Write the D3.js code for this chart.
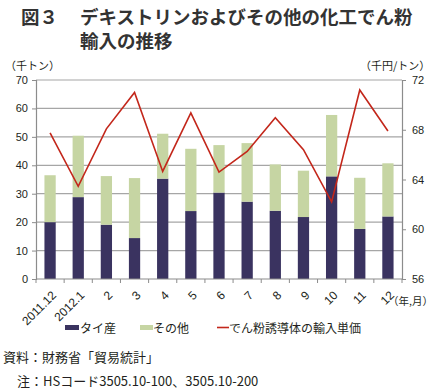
<!DOCTYPE html>
<html>
<head>
<meta charset="utf-8">
<script src="https://cdn.jsdelivr.net/npm/d3@7"></script>
<style>
body { margin: 0; background: #fff; }
text { font-family: "Noto Sans CJK JP", "Noto Sans", sans-serif; fill: #231f20; }
</style>
</head>
<body>
<div class="chart"></div>
<script>
// data
var months = ["2011.12", "2012.1", "2", "3", "4", "5", "6", "7", "8", "9", "10", "11", "12"];
var thai = [20.0, 28.8, 19.1, 14.4, 35.3, 23.9, 30.4, 27.2, 24.0, 21.8, 36.1, 17.6, 22.0];
var other = [16.5, 21.6, 17.1, 21.1, 15.8, 21.9, 16.7, 20.6, 16.3, 16.3, 21.6, 18.0, 18.7];
var price = [67.75, 63.45, 68.07, 71.0, 64.65, 69.36, 64.6, 66.26, 68.96, 66.4, 62.2, 71.2, 67.9];
var leftTicks = [0, 10, 20, 30, 40, 50, 60, 70];
var rightTicks = [56, 60, 64, 68, 72];

var width = 437, height = 390;
var margin = {top: 80, right: 35, bottom: 111, left: 36};
var w = width - margin.left - margin.right,
    h = height - margin.top - margin.bottom;

var svg = d3.select(".chart").append("svg")
    .attr("width", width)
    .attr("height", height);

// title
svg.append("text").attr("x", 21).attr("y", 24)
    .style("font-size", "18.5px").style("font-weight", "bold").style("fill", "#333")
    .text("図３");
svg.append("text").attr("x", 80).attr("y", 24)
    .style("font-size", "18.5px").style("font-weight", "bold").style("fill", "#333")
    .text("デキストリンおよびその他の化工でん粉");
svg.append("text").attr("x", 80).attr("y", 48)
    .style("font-size", "18.5px").style("font-weight", "bold").style("fill", "#333")
    .text("輸入の推移");

var g = svg.append("g")
    .attr("transform", "translate(" + margin.left + "," + margin.top + ")");

var xScale = d3.scaleBand()
    .domain(months)
    .range([0, w])
    .paddingInner(0.6)
    .paddingOuter(0.3);

var yScale = d3.scaleLinear().domain([0, 70]).range([h, 0]);
var y2Scale = d3.scaleLinear().domain([56, 72]).range([h, 0]);

// grid
g.selectAll(".grid").data(leftTicks.slice(1))
    .enter().append("line")
    .attr("x1", 0).attr("x2", w)
    .attr("y1", d => yScale(d)).attr("y2", d => yScale(d))
    .style("stroke", "#a6a6a6").style("stroke-width", 1.2);

// stacked bars
var stack = months.map(function(m, i) { return {m: m, thai: thai[i], other: other[i]}; });

g.selectAll(".thai").data(stack)
    .enter().append("rect")
    .attr("x", d => xScale(d.m))
    .attr("y", d => yScale(d.thai))
    .attr("width", xScale.bandwidth())
    .attr("height", d => yScale(0) - yScale(d.thai))
    .style("fill", "#3a3360");

g.selectAll(".other").data(stack)
    .enter().append("rect")
    .attr("x", d => xScale(d.m))
    .attr("y", d => yScale(d.thai + d.other))
    .attr("width", xScale.bandwidth())
    .attr("height", d => yScale(d.thai) - yScale(d.thai + d.other))
    .style("fill", "#c6d5a3");

// price line
var line = d3.line()
    .x((d, i) => xScale(months[i]) + xScale.bandwidth() / 2)
    .y(d => y2Scale(d));

g.append("path").datum(price)
    .attr("d", line)
    .style("fill", "none")
    .style("stroke", "#c3271b")
    .style("stroke-width", 1.6);

// axes
var yAxis = d3.axisLeft(yScale).tickValues(leftTicks).tickSize(4).tickPadding(4);
var y2Axis = d3.axisRight(y2Scale).tickValues(rightTicks).tickSize(4).tickPadding(6);

var ya = g.append("g").call(yAxis);
var y2a = g.append("g").attr("transform", "translate(" + w + ",0)").call(y2Axis);
[ya, y2a].forEach(function(a) {
  a.select(".domain").style("stroke", "#8c8c8c").style("stroke-width", 1.2);
  a.selectAll(".tick line").style("stroke", "#8c8c8c");
  a.selectAll(".tick text").style("font-size", "11px").style("fill", "#231f20")
    .style("font-family", "Liberation Sans, Arial, sans-serif");
});

// x axis with ticks between categories
var xa = g.append("g").attr("transform", "translate(0," + h + ")");
xa.append("line").attr("x1", 0).attr("x2", w)
    .style("stroke", "#8c8c8c").style("stroke-width", 1.2);
var bounds = d3.range(months.length + 1).map(i => i * w / months.length);
xa.selectAll(".xt").data(bounds).enter().append("line")
    .attr("x1", d => d).attr("x2", d => d)
    .attr("y1", 0).attr("y2", 4)
    .style("stroke", "#8c8c8c");
xa.selectAll(".xl").data(months).enter().append("text")
    .attr("transform", d => "translate(" + (xScale(d) + xScale.bandwidth() / 2 + 1) + ",11) rotate(-45)")
    .attr("text-anchor", "end")
    .attr("dy", "0.7em")
    .style("font-size", "12px")
    .style("font-family", "Liberation Sans, Arial, sans-serif")
    .text(d => d);

svg.append("text").attr("x", 388).attr("y", 305)
    .style("font-size", "10.5px").text("（年,月）");

// axis units
svg.append("text").attr("x", 5).attr("y", 70)
    .style("font-size", "11px").text("（千トン）");
svg.append("text").attr("x", 360).attr("y", 70)
    .style("font-size", "11px").text("（千円/トン）");

// legend
var legend = svg.append("g").attr("transform", "translate(0,333)");
legend.append("rect").attr("x", 65).attr("y", -8).attr("width", 14).attr("height", 5).style("fill", "#3a3360");
legend.append("text").attr("x", 80).attr("y", 0).style("font-size", "12px").text("タイ産");
legend.append("rect").attr("x", 140).attr("y", -8).attr("width", 13).attr("height", 5).style("fill", "#c6d5a3");
legend.append("text").attr("x", 153).attr("y", 0).style("font-size", "12px").text("その他");
legend.append("line").attr("x1", 217).attr("x2", 229).attr("y1", -5.5).attr("y2", -5.5)
    .style("stroke", "#c3271b").style("stroke-width", 1.6);
legend.append("text").attr("x", 229).attr("y", 0).style("font-size", "12px").text("でん粉誘導体の輸入単価");

// notes
svg.append("text").attr("x", 3).attr("y", 362).style("font-size", "13px").text("資料：財務省「貿易統計」");
svg.append("text").attr("x", 17).attr("y", 386).style("font-size", "13px").text("注：HSコード3505.10-100、3505.10-200");
</script>
</body>
</html>
